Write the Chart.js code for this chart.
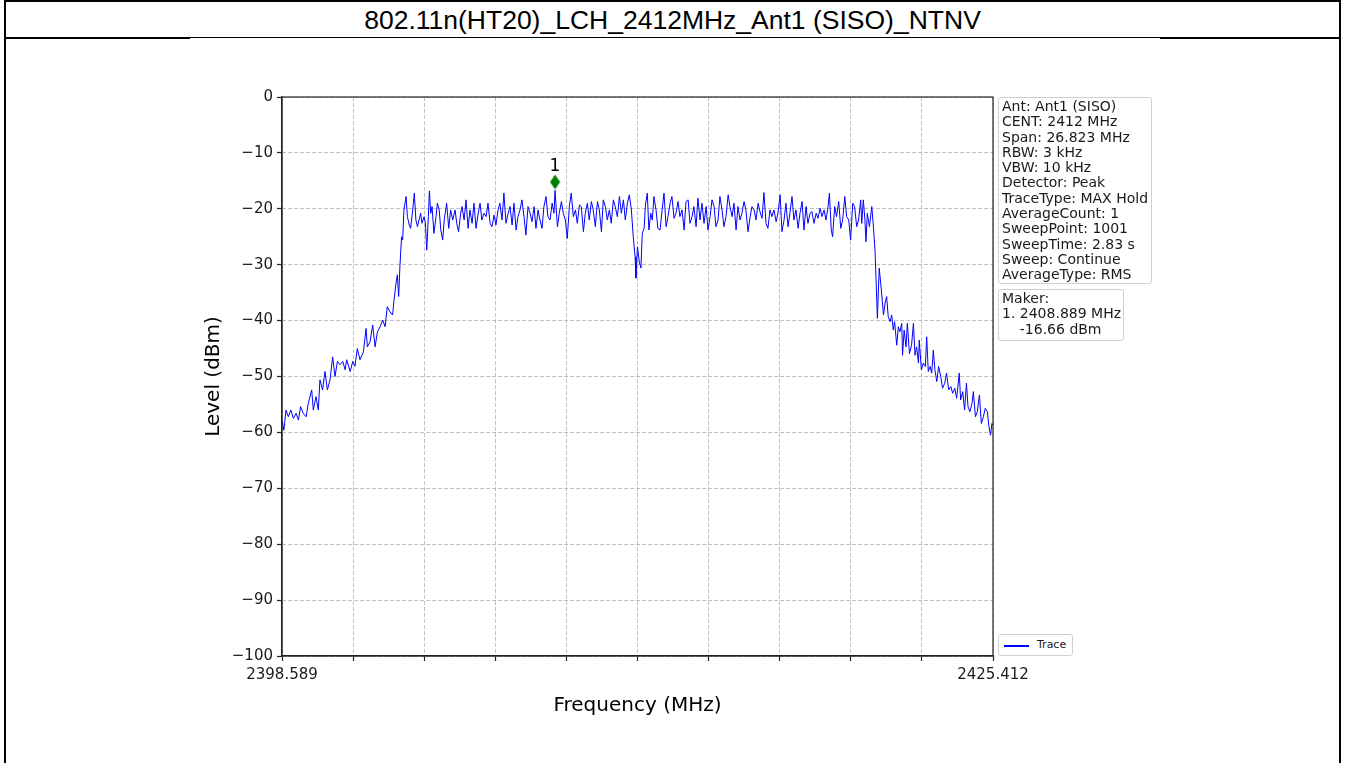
<!DOCTYPE html>
<html>
<head>
<meta charset="utf-8">
<title>802.11n(HT20)_LCH_2412MHz_Ant1 (SISO)_NTNV</title>
<script src="https://cdn.jsdelivr.net/npm/chart.js@4.4.0/dist/chart.umd.min.js"></script>
<style>
  html, body { margin: 0; padding: 0; background: #fff; }
  body { width: 1346px; height: 763px; position: relative; overflow: hidden; font-family: 'DejaVu Sans', sans-serif; }
  #frame { position: absolute; left: 4px; top: 0; width: 1333px; height: 800px; border: 2px solid #000; }
  #title { position: absolute; left: 6px; top: 2px; width: 1333px; height: 35px; line-height: 36px; text-align: center;
           font-family: 'Liberation Sans', Arial, sans-serif; font-size: 26.5px; color: #000; }
  #rule { position: absolute; left: 4px; top: 37px; width: 1337px; height: 2px; background: #000; }
  #ruleGap { position: absolute; left: 190px; top: 38px; width: 970px; height: 1px; background: #fff; }
  #chart { position: absolute; left: 0; top: 0; }
  .box { position: absolute; box-sizing: border-box; border: 1px solid #cfcfcf; border-radius: 3px; background: #fff;
         font-size: 14px; line-height: 15.3px; color: #1a1a1a; padding: 1px 3px; white-space: pre; }
  #legend { position: absolute; left: 998px; top: 634px; width: 75px; height: 22px; box-sizing: border-box;
            border: 1px solid #cfcfcf; border-radius: 3px; background: #fff; font-size: 11px; color: #1a1a1a; }
  #legend .swatch { position: absolute; left: 5px; top: 10px; width: 25px; height: 1.5px; background: #0000ff; }
  #legend .label { position: absolute; left: 38px; top: 3px; }
</style>
</head>
<body>
<div id="frame"></div>
<div id="title">802.11n(HT20)_LCH_2412MHz_Ant1 (SISO)_NTNV</div>
<div id="rule"></div>
<div id="ruleGap"></div>
<canvas id="chart" width="1346" height="763"></canvas>
<div class="box" id="info" style="left:998px; top:97px; width:154px; height:187px;"></div>
<div class="box" id="maker" style="left:998px; top:289px; width:126px; height:52px;"></div>
<div id="legend"><span class="swatch"></span><span class="label">Trace</span></div>
<script>
// x axis ticks (MHz); only the two ends carry a label
const xTicks = [2398.589, 2401.271, 2403.954, 2406.636, 2409.318, 2412.000,
                2414.683, 2417.365, 2420.047, 2422.730, 2425.412];
const xTickLabels = ['2398.589', '', '', '', '', '', '', '', '', '', '2425.412'];

// trace: frequency (MHz) and level (dBm)
const freqMHz = [
  2398.59, 2398.66, 2398.74, 2398.83, 2398.92, 2399.02, 2399.12, 2399.21, 2399.29, 2399.39,
  2399.50, 2399.58, 2399.71, 2399.77, 2399.87, 2399.96, 2400.02, 2400.12, 2400.21, 2400.30,
  2400.40, 2400.50, 2400.59, 2400.68, 2400.78, 2400.88, 2400.97, 2401.03, 2401.16, 2401.26,
  2401.34, 2401.43, 2401.53, 2401.66, 2401.76, 2401.81, 2401.91, 2402.01, 2402.10, 2402.19,
  2402.29, 2402.39, 2402.48, 2402.56, 2402.66, 2402.76, 2402.81, 2402.89, 2402.94, 2402.99,
  2403.04, 2403.10, 2403.14, 2403.19, 2403.27, 2403.32, 2403.39,
  // in-band, left half
  2403.44, 2403.52, 2403.58, 2403.64, 2403.70, 2403.76, 2403.82, 2403.87, 2403.95, 2404.00,
  2404.05, 2404.11, 2404.15, 2404.20, 2404.25, 2404.32, 2404.40, 2404.45, 2404.52, 2404.58,
  2404.65, 2404.71, 2404.80, 2404.88, 2404.95, 2405.03, 2405.12, 2405.18, 2405.25, 2405.33,
  2405.38, 2405.46, 2405.53, 2405.61, 2405.68, 2405.76, 2405.83, 2405.91, 2405.98, 2406.06,
  2406.13, 2406.21, 2406.29, 2406.36, 2406.44, 2406.51, 2406.59, 2406.66, 2406.74, 2406.81,
  2406.89, 2406.96, 2407.04, 2407.12, 2407.19, 2407.27, 2407.34, 2407.42, 2407.49, 2407.57,
  2407.64, 2407.72, 2407.79, 2407.87, 2407.95, 2408.02, 2408.10, 2408.17, 2408.25, 2408.32,
  2408.40, 2408.47, 2408.55, 2408.62, 2408.70, 2408.78, 2408.85, 2408.89, 2408.98, 2409.05,
  2409.13, 2409.20, 2409.28, 2409.35, 2409.43, 2409.50, 2409.58, 2409.66, 2409.73, 2409.81,
  2409.88, 2409.96, 2410.03, 2410.11, 2410.18, 2410.26, 2410.33, 2410.41, 2410.49, 2410.56,
  2410.64, 2410.71, 2410.79, 2410.86, 2410.94, 2411.01, 2411.09, 2411.16, 2411.24, 2411.32,
  2411.39, 2411.47, 2411.54, 2411.62, 2411.69, 2411.77,
  // centre notch and in-band, right half
  2411.84, 2411.91, 2411.94, 2412.00, 2412.07, 2412.13, 2412.18, 2412.25, 2412.30, 2412.37,
  2412.43, 2412.50, 2412.56, 2412.62, 2412.70, 2412.77, 2412.85, 2412.93, 2413.00, 2413.08,
  2413.15, 2413.23, 2413.30, 2413.38, 2413.45, 2413.53, 2413.60, 2413.68, 2413.76, 2413.83,
  2413.91, 2413.98, 2414.06, 2414.13, 2414.21, 2414.28, 2414.36, 2414.43, 2414.51, 2414.59,
  2414.66, 2414.74, 2414.81, 2414.89, 2414.96, 2415.04, 2415.11, 2415.19, 2415.26, 2415.34,
  2415.42, 2415.49, 2415.57, 2415.64, 2415.72, 2415.79, 2415.87, 2415.94, 2416.02, 2416.09,
  2416.17, 2416.25, 2416.32, 2416.40, 2416.47, 2416.55, 2416.62, 2416.70, 2416.77, 2416.85,
  2416.92, 2417.00, 2417.07, 2417.15, 2417.23, 2417.30, 2417.38, 2417.45, 2417.53, 2417.60,
  2417.68, 2417.75, 2417.83, 2417.90, 2417.98, 2418.06, 2418.13, 2418.21, 2418.28, 2418.36,
  2418.43, 2418.51, 2418.58, 2418.66, 2418.74, 2418.81, 2418.89, 2418.96, 2419.04, 2419.11,
  2419.19, 2419.24, 2419.31, 2419.36, 2419.44, 2419.51, 2419.59, 2419.67, 2419.74, 2419.82,
  2419.89, 2419.97, 2420.04, 2420.12, 2420.19, 2420.27, 2420.34, 2420.42,
  // right edge and upper skirt
  2420.46, 2420.52, 2420.58, 2420.62, 2420.67, 2420.75, 2420.84, 2420.90, 2420.96, 2421.00,
  2421.05, 2421.12, 2421.20, 2421.28, 2421.34, 2421.40, 2421.46, 2421.53, 2421.59, 2421.65,
  2421.70, 2421.78, 2421.84, 2421.90, 2421.97, 2422.00, 2422.06, 2422.13, 2422.18, 2422.26,
  2422.34, 2422.41, 2422.47, 2422.53, 2422.60, 2422.63, 2422.71, 2422.78, 2422.86, 2422.91,
  2422.97, 2423.04, 2423.10, 2423.16, 2423.22, 2423.29, 2423.36, 2423.44, 2423.51, 2423.59,
  2423.66, 2423.74, 2423.82, 2423.89, 2423.97, 2424.04, 2424.14, 2424.19, 2424.27, 2424.34,
  2424.41, 2424.47, 2424.54, 2424.62, 2424.67, 2424.75, 2424.82, 2424.90, 2424.97, 2425.05,
  2425.12, 2425.20, 2425.25, 2425.32, 2425.37, 2425.41
];

const levelDbm = [
  -57.8, -59.6, -56.0, -57.2, -56.0, -57.5, -56.6, -57.8, -55.4, -56.6,
  -57.2, -54.8, -52.4, -56.0, -53.6, -56.0, -50.6, -52.4, -49.1, -52.4,
  -50.6, -46.5, -50.0, -47.3, -47.9, -47.3, -48.8, -47.0, -49.1, -47.3,
  -48.2, -45.0, -47.0, -45.6, -41.4, -44.7, -43.8, -40.8, -44.7, -42.0,
  -41.1, -39.9, -41.1, -37.5, -38.4, -39.0, -36.6, -33.3, -31.8, -35.7,
  -30.1, -25.0, -25.6, -20.2, -17.8, -21.4, -22.9,
  // in-band, left half
  -23.5, -20.2, -17.2, -22.0, -23.2, -22.0, -20.8, -22.6, -21.4, -22.6,
  -27.4, -21.4, -16.8, -20.8, -19.6, -24.4, -21.4, -19.0, -20.2, -23.8,
  -25.6, -22.0, -19.0, -23.5, -20.2, -22.0, -20.2, -22.6, -24.1, -20.8,
  -19.6, -22.0, -18.4, -23.5, -20.2, -22.6, -19.0, -23.5, -21.1, -19.0,
  -22.0, -20.8, -21.4, -19.0, -22.6, -23.2, -21.1, -22.9, -20.2, -19.0,
  -22.0, -17.2, -22.6, -20.8, -19.6, -22.9, -19.0, -23.8, -21.4, -20.2,
  -18.4, -21.4, -24.7, -19.6, -20.8, -22.3, -19.6, -23.5, -20.2, -22.0,
  -23.5, -19.6, -17.8, -21.4, -22.0, -19.0, -20.8, -16.7, -23.2, -20.8,
  -18.7, -20.8, -22.0, -25.3, -19.6, -17.2, -21.4, -20.2, -22.6, -19.3,
  -19.6, -24.1, -20.8, -19.0, -22.0, -18.7, -20.2, -23.2, -18.7, -20.2,
  -24.1, -18.4, -19.6, -22.0, -20.2, -22.6, -18.4, -19.6, -21.4, -17.8,
  -20.8, -18.4, -22.0, -19.0, -17.5, -20.2,
  // centre notch and in-band, right half
  -25.0, -28.6, -32.4, -26.8, -29.5, -30.6, -24.4, -23.5, -19.3, -17.2,
  -23.8, -20.8, -22.0, -17.8, -20.2, -23.5, -23.8, -20.2, -17.2, -23.2,
  -21.4, -19.0, -17.8, -21.7, -20.8, -18.7, -21.4, -20.2, -23.8, -18.7,
  -18.4, -22.6, -21.4, -19.6, -23.2, -18.1, -22.0, -19.0, -22.6, -19.6,
  -23.8, -21.4, -18.4, -19.6, -23.2, -22.0, -17.8, -20.2, -23.2, -21.4,
  -17.5, -19.6, -21.4, -19.0, -23.8, -19.6, -22.0, -20.8, -18.7, -20.2,
  -24.1, -21.4, -19.6, -20.2, -22.0, -19.0, -20.5, -21.7, -17.1, -22.6,
  -23.5, -20.2, -21.4, -20.2, -22.3, -20.8, -17.5, -24.1, -22.0, -19.0,
  -23.2, -20.8, -17.8, -22.0, -20.2, -23.5, -20.8, -18.7, -23.8, -19.6,
  -22.6, -20.8, -20.5, -22.6, -20.8, -21.7, -19.9, -21.4, -20.2, -22.0,
  -19.6, -17.2, -23.8, -25.0, -19.6, -21.4, -18.7, -23.5, -22.0, -17.8,
  -21.4, -22.0, -25.6, -19.0, -19.6, -23.2, -22.0, -18.4,
  // right edge and upper skirt
  -22.6, -18.4, -22.0, -25.9, -20.8, -23.2, -19.6, -23.2, -27.4, -32.7,
  -39.6, -30.6, -34.5, -39.0, -36.9, -35.7, -39.3, -40.2, -39.0, -41.7,
  -40.2, -44.4, -41.1, -42.0, -40.5, -46.2, -41.7, -44.7, -40.5, -45.9,
  -44.4, -40.5, -46.2, -44.7, -47.6, -43.5, -48.8, -47.6, -48.2, -42.9,
  -49.1, -48.2, -49.4, -45.3, -48.8, -50.9, -48.2, -50.0, -52.1, -51.2,
  -49.4, -52.4, -51.8, -53.0, -52.1, -53.9, -49.4, -54.2, -52.7, -56.0,
  -51.2, -55.4, -56.3, -54.8, -52.7, -57.2, -56.3, -53.3, -58.4, -57.2,
  -55.7, -56.3, -58.7, -60.5, -58.4, -58.7
];

// marker 1 (the diamond sits a little above the trace in the picture)
const markerFreq = 2408.889;
const markerPlotLevel = -15.2;
const markerLabel = '1';

const infoLines = [
  'Ant: Ant1 (SISO)', 'CENT: 2412 MHz', 'Span: 26.823 MHz', 'RBW: 3 kHz', 'VBW: 10 kHz',
  'Detector: Peak', 'TraceType: MAX Hold', 'AverageCount: 1', 'SweepPoint: 1001',
  'SweepTime: 2.83 s', 'Sweep: Continue', 'AverageType: RMS'
];
const makerLines = ['Maker:', '1. 2408.889 MHz', '    -16.66 dBm'];

document.getElementById('info').textContent = infoLines.join('\n');
document.getElementById('maker').textContent = makerLines.join('\n');

// thin green diamond like matplotlib's 'd' marker
const diamond = document.createElement('canvas');
diamond.width = 11;
diamond.height = 16;
const dctx = diamond.getContext('2d');
dctx.fillStyle = '#008000';
dctx.beginPath();
dctx.moveTo(5.5, 0.5);
dctx.lineTo(10.5, 8);
dctx.lineTo(5.5, 15.5);
dctx.lineTo(0.5, 8);
dctx.closePath();
dctx.fill();

const textColor = '#1a1a1a';
const font = 'DejaVu Sans';

// full box around the plot area plus the marker number
const framePlugin = {
  id: 'frameBox',
  afterDraw(chart) {
    const { ctx, chartArea: a } = chart;
    ctx.save();
    ctx.strokeStyle = '#222';
    ctx.lineWidth = 1.2;
    ctx.strokeRect(a.left, a.top, a.right - a.left, a.bottom - a.top);
    const pt = chart.getDatasetMeta(1).data[0];
    ctx.fillStyle = '#000';
    ctx.font = '17px "' + font + '"';
    ctx.textAlign = 'center';
    ctx.textBaseline = 'middle';
    ctx.fillText(markerLabel, pt.x, pt.y - 15);
    ctx.restore();
  }
};

new Chart(document.getElementById('chart'), {
  data: {
    datasets: [
      {
        type: 'line',
        label: 'Trace',
        data: freqMHz.map((f, i) => ({ x: f, y: levelDbm[i] })),
        borderColor: '#0000ff',
        borderWidth: 1,
        pointRadius: 0,
        tension: 0,
        order: 2
      },
      {
        type: 'scatter',
        label: 'Marker 1',
        data: [{ x: markerFreq, y: markerPlotLevel }],
        pointStyle: diamond,
        pointRadius: 8,
        order: 1
      }
    ]
  },
  options: {
    responsive: false,
    animation: false,
    layout: { padding: { left: 202, right: 353, top: 97, bottom: 45 } },
    plugins: { legend: { display: false }, tooltip: { enabled: false } },
    scales: {
      x: {
        type: 'linear',
        min: xTicks[0],
        max: xTicks[xTicks.length - 1],
        afterBuildTicks: s => { s.ticks = xTicks.map(v => ({ value: v })); },
        afterFit: s => { s.height = 62; },
        ticks: {
          autoSkip: false, maxRotation: 0, padding: 5, color: textColor,
          font: { family: font, size: 15 },
          callback: (v, i) => xTickLabels[i]
        },
        grid: { color: '#b0b0b0', lineWidth: 0.8, tickColor: '#222', tickLength: 5, tickWidth: 1.2 },
        border: { color: '#222', width: 1.2, dash: [4, 2] },
        title: { display: true, text: 'Frequency (MHz)', color: '#000', font: { family: font, size: 20 }, padding: { top: 0, bottom: 0 } }
      },
      y: {
        min: -100,
        max: 0,
        afterFit: s => { s.width = 80; },
        ticks: {
          stepSize: 10, padding: 4, color: textColor,
          font: { family: font, size: 15 },
          callback: v => v === 0 ? '0' : '\u2212' + Math.abs(v)
        },
        grid: { color: '#b0b0b0', lineWidth: 0.8, tickColor: '#222', tickLength: 5, tickWidth: 1.2 },
        border: { color: '#222', width: 1.2, dash: [4, 2] },
        title: { display: true, text: 'Level (dBm)', color: '#000', font: { family: font, size: 20 }, padding: { top: 0, bottom: 0 } }
      }
    }
  },
  plugins: [framePlugin]
});
</script>
</body>
</html>
